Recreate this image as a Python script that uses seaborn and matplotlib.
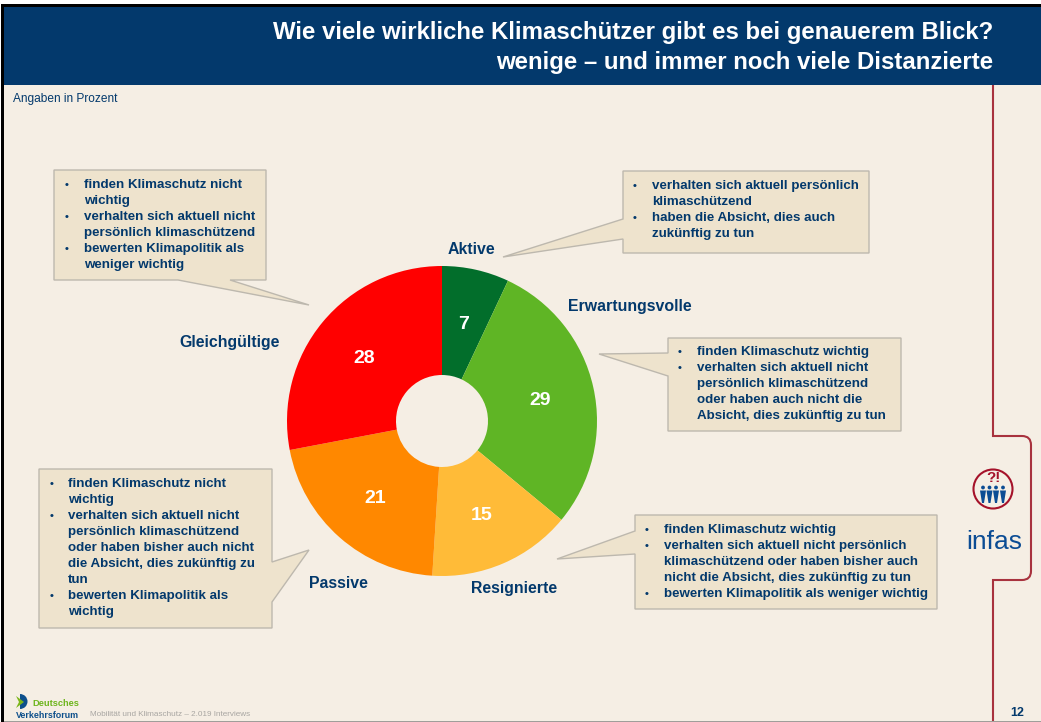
import matplotlib
matplotlib.use("Agg")
import matplotlib.pyplot as plt
import seaborn as sns
from matplotlib.patches import Circle, PathPatch, Polygon, Rectangle, Wedge
from matplotlib.path import Path

# ---------- data ----------
groups = ["Aktive", "Erwartungsvolle", "Resignierte", "Passive", "Gleichgültige"]
shares = [7, 29, 15, 21, 28]
slice_colors = ["#026E2B", "#5FB525", "#FFBB38", "#FF8800", "#FF0000"]

title_lines = [
    "Wie viele wirkliche Klimaschützer gibt es bei genauerem Blick?",
    "wenige – und immer noch viele Distanzierte",
]
footer = "Mobilität und Klimaschutz – 2.019 Interviews"

text_gleich = [
    ("•", "finden Klimaschutz nicht"), ("", "wichtig"),
    ("•", "verhalten sich aktuell nicht"), ("", "persönlich klimaschützend"),
    ("•", "bewerten Klimapolitik als"), ("", "weniger wichtig"),
]
text_aktive = [
    ("•", "verhalten sich aktuell persönlich"), ("", "klimaschützend"),
    ("•", "haben die Absicht, dies auch"), ("", "zukünftig zu tun"),
]
text_erwart = [
    ("•", "finden Klimaschutz wichtig"),
    ("•", "verhalten sich aktuell nicht"), ("", "persönlich klimaschützend"),
    ("", "oder haben auch nicht die"), ("", "Absicht, dies zukünftig zu tun"),
]
text_resign = [
    ("•", "finden Klimaschutz wichtig"),
    ("•", "verhalten sich aktuell nicht persönlich"),
    ("", "klimaschützend oder haben bisher auch"),
    ("", "nicht die Absicht, dies zukünftig zu tun"),
    ("•", "bewerten Klimapolitik als weniger wichtig"),
]
text_passive = [
    ("•", "finden Klimaschutz nicht"), ("", "wichtig"),
    ("•", "verhalten sich aktuell nicht"), ("", "persönlich klimaschützend"),
    ("", "oder haben bisher auch nicht"), ("", "die Absicht, dies zukünftig zu"), ("", "tun"),
    ("•", "bewerten Klimapolitik als"), ("", "wichtig"),
]

# ---------- style ----------
W, H = 1041, 722
BG = "#F5EEE4"
NAVY = "#03396C"
BOX = "#EEE3CD"
EDGE = "#BDB8AE"
RED = "#A8323E"
LOGO_BLUE = "#0B4C94"
LOGO_RED = "#A5122A"

sns.set_style("white")
plt.rcParams["font.family"] = ["Liberation Sans", "DejaVu Sans"]

fig = plt.figure(figsize=(W / 100, H / 100), dpi=100, facecolor=BG)

# page layer in pixel coordinates, y pointing down like the slide
page = fig.add_axes([0, 0, 1, 1])
page.set_xlim(0, W)
page.set_ylim(H, 0)
page.axis("off")

page.add_patch(Rectangle((0, 0), W, 4, fc="white", ec="none"))
page.add_patch(Rectangle((0, 4), W, 2.5, fc="black", ec="none"))
page.add_patch(Rectangle((0, 6.5), W, 78.5, fc=NAVY, ec="none"))
page.add_patch(Rectangle((0, 0), 1, H, fc="white", ec="none", zorder=5))
page.add_patch(Rectangle((1, 4), 2.5, H, fc="black", ec="none", zorder=5))
page.add_patch(Rectangle((3.5, 720.5), W, 1.5, fc="#A09E9A", ec="none", zorder=5))

page.text(993, 33, title_lines[0], ha="right", va="center", color="white",
          fontsize=17.3, fontweight="bold")
page.text(993, 62, title_lines[1], ha="right", va="center", color="white",
          fontsize=17.3, fontweight="bold")
page.text(13, 99, "Angaben in Prozent", ha="left", va="center", color=NAVY, fontsize=8.6)

# red tab line on the right
codes = [Path.MOVETO, Path.LINETO, Path.LINETO, Path.CURVE3, Path.CURVE3, Path.LINETO,
         Path.CURVE3, Path.CURVE3, Path.LINETO, Path.LINETO]
verts = [(993, 85), (993, 436), (1022, 436), (1031, 436), (1031, 445), (1031, 571),
         (1031, 580), (1022, 580), (993, 580), (993, 722)]
page.add_patch(PathPatch(Path(verts, codes), fc="none", ec=RED, lw=1.5))


def callout(poly, lines, bullet_x, text_x, first_y):
    page.add_patch(Polygon(poly, closed=True, fc=BOX, ec=EDGE, lw=1.0, joinstyle="miter"))
    for i, (bullet, line) in enumerate(lines):
        y = first_y + 1 + i * 16
        if bullet:
            page.text(bullet_x, y, bullet, ha="center", va="center", color=NAVY,
                      fontsize=8, fontweight="bold")
        page.text(text_x, y, line, ha="left", va="center", color=NAVY,
                  fontsize=9.6, fontweight="bold")


callout([(54, 170), (266, 170), (266, 280), (230, 280), (309, 305), (178, 280), (54, 280)],
        text_gleich, 67, 84, 184)
callout([(623, 171), (869, 171), (869, 253), (623, 253), (623, 239), (503, 257), (623, 219)],
        text_aktive, 635, 652, 185)
callout([(668, 338), (901, 338), (901, 431), (668, 431), (668, 376), (599, 354), (668, 353)],
        text_erwart, 680, 697, 351)
callout([(635, 515), (937, 515), (937, 609), (635, 609), (635, 554), (557, 559), (635, 531)],
        text_resign, 647, 664, 529)
callout([(39, 469), (272, 469), (272, 562), (309, 550), (272, 602), (272, 628), (39, 628)],
        text_passive, 52, 68, 483)

# group names next to the ring
name_spots = {
    "Aktive": (448, 250),
    "Erwartungsvolle": (568, 306),
    "Resignierte": (471, 588),
    "Passive": (309, 583),
    "Gleichgültige": (179, 343),
}
for name in groups:
    x, y = name_spots[name]
    page.text(x, y, name, ha="left", va="center", color=NAVY, fontsize=11.4, fontweight="bold")

# ---------- donut ----------
cx, cy, r = 442, 421, 155
span = r * 1.25
donut = fig.add_axes([(cx - span) / W, 1 - (cy + span) / H, 2 * span / W, 2 * span / H])
donut.patch.set_alpha(0)
wedges, _, value_labels = donut.pie(
    shares,
    colors=slice_colors,
    startangle=90,
    counterclock=False,
    autopct=lambda p: f"{p:.0f}",
    pctdistance=0.65,
    wedgeprops={"width": 109 / 155, "linewidth": 0},
    textprops={"color": "white", "fontsize": 14, "fontweight": "bold"},
)
for label in value_labels:
    lx, ly = label.get_position()
    label.set_position((lx, ly - 0.012))
donut.set_xlim(-1.25, 1.25)
donut.set_ylim(-1.25, 1.25)

# ---------- infas logo ----------
page.add_patch(Circle((993, 489), 19.5, fc="none", ec=LOGO_RED, lw=1.5))
page.text(993, 478, "?!", ha="center", va="center", color=LOGO_RED, fontsize=11, fontweight="bold")
for px in [983, 989.5, 996, 1003]:
    page.add_patch(Circle((px, 487.5), 1.9, fc=LOGO_BLUE, ec="none"))
    page.add_patch(Polygon([(px - 3, 490.5), (px + 3, 490.5), (px + 1, 503), (px - 1, 503)],
                           closed=True, fc=LOGO_BLUE, ec="none"))
page.text(994, 549, "infas", ha="center", va="baseline", color=LOGO_BLUE, fontsize=19)

page.text(1017, 713, "12", ha="center", va="center", color=NAVY, fontsize=9, fontweight="bold")

# ---------- footer ----------
page.add_patch(Wedge((20, 701.5), 7.5, -90, 90, fc="#0D4F8B", ec="none"))
page.add_patch(Polygon([(16, 696), (24, 702), (16, 708), (19, 702)], closed=True, fc="#7CB518", ec="none"))
page.text(32, 704, "Deutsches", ha="left", va="center", color="#6DB51C", fontsize=6.7, fontweight="bold")
page.text(16, 715, "Verkehrsforum", ha="left", va="center", color="#0D4F8B", fontsize=6.4, fontweight="bold")
page.text(90, 715, footer, ha="left", va="center", color="#A8A6A2", fontsize=5.9)

fig.savefig("out.png", dpi=100, facecolor=BG)
plt.close(fig)
